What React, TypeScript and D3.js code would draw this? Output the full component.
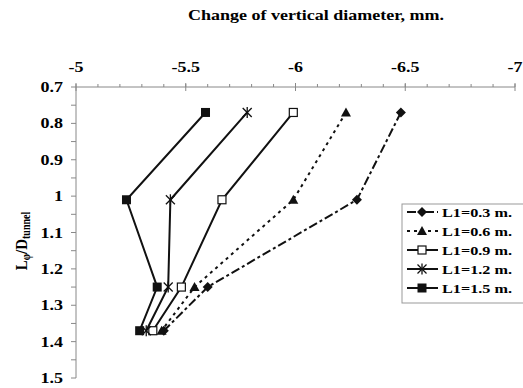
import React from "react";
import * as d3 from "d3";

const yLevels = [0.77, 1.01, 1.25, 1.37];
const seriesNames = ["L1=0.3 m.", "L1=0.6 m.", "L1=0.9 m.", "L1=1.2 m.", "L1=1.5 m."];
const s03 = [-6.48, -6.28, -5.6, -5.4];
const s06 = [-6.23, -5.99, -5.54, -5.39];
const s09 = [-5.99, -5.665, -5.48, -5.35];
const s12 = [-5.78, -5.43, -5.42, -5.32];
const s15 = [-5.59, -5.23, -5.37, -5.29];
const xTicks = [-5, -5.5, -6, -6.5, -7];
const yTicks = [0.7, 0.8, 0.9, 1, 1.1, 1.2, 1.3, 1.4, 1.5];

const allSeries = [s03, s06, s09, s12, s15];
const markers = ["diamond", "triangle", "openSquare", "star", "square"];
const dashes = ["9,3,3,3", "3,4", "", "", ""];

const W = 523, H = 388;
const x = d3.scaleLinear().domain([-5, -7]).range([76, 515]);
const y = d3.scaleLinear().domain([0.7, 1.5]).range([87, 378]);
const font = "Liberation Serif";
const SX = 1.2;

function T({ x: tx, y: ty, anchor, size, children }: { x: number; y: number; anchor?: string; size: number; children: any }) {
  return (
    <text
      transform={`translate(${tx},${ty}) scale(${SX},1)`}
      textAnchor={anchor || "start"}
      style={{ fontFamily: font, fontWeight: 700, fontSize: size }}
    >
      {children}
    </text>
  );
}

function Marker({ kind, cx, cy }: { kind: string; cx: number; cy: number }) {
  const c = "#111";
  if (kind === "diamond") {
    const r = 5;
    return <path d={`M${cx},${cy - r}L${cx + r},${cy}L${cx},${cy + r}L${cx - r},${cy}Z`} fill={c} />;
  }
  if (kind === "triangle") {
    const r = 5;
    return <path d={`M${cx},${cy - r}L${cx + r},${cy + r * 0.8}L${cx - r},${cy + r * 0.8}Z`} fill={c} />;
  }
  if (kind === "openSquare") {
    return <rect x={cx - 4} y={cy - 4} width={8} height={8} fill="#fff" stroke={c} strokeWidth={1.2} />;
  }
  if (kind === "square") {
    return <rect x={cx - 4.5} y={cy - 4.5} width={9} height={9} fill={c} />;
  }
  const r = 4.5;
  return (
    <g stroke={c} strokeWidth={1.3}>
      <line x1={cx - r} y1={cy - r} x2={cx + r} y2={cy + r} />
      <line x1={cx - r} y1={cy + r} x2={cx + r} y2={cy - r} />
      <line x1={cx} y1={cy - r - 1} x2={cx} y2={cy + r + 1} />
    </g>
  );
}

export default function App() {
  const line = d3
    .line<number>()
    .x((d) => x(d))
    .y((_, i) => y(yLevels[i]));
  const minorX = d3.range(0, 21).map((i) => -5 - i * 0.1);
  const minorY = d3.range(0, 17).map((i) => 0.7 + i * 0.05);
  const legendY = [212, 231, 250, 269, 288];
  return (
    <svg width={W} height={H} style={{ position: "absolute", left: 0, top: 0, background: "#fff" }}>
      <rect width={W} height={H} fill="#fff" />
      <T x={316} y={20} anchor="middle" size={15}>
        Change of vertical diameter, mm.
      </T>
      {/* top axis */}
      <line x1={x(-5)} x2={x(-7)} y1={y(0.7)} y2={y(0.7)} stroke="#888" />
      {minorX.map((v, i) => (
        <line key={"mx" + i} x1={x(v)} x2={x(v)} y1={y(0.7) - 3} y2={y(0.7)} stroke="#888" />
      ))}
      {xTicks.map((v) => (
        <g key={"xt" + v}>
          <line x1={x(v)} x2={x(v)} y1={y(0.7) - 4} y2={y(0.7) + 4} stroke="#888" />
          <T x={x(v)} y={72} anchor="middle" size={15}>
            {String(v)}
          </T>
        </g>
      ))}
      {/* left axis */}
      <line x1={x(-5)} x2={x(-5)} y1={y(0.7)} y2={y(1.5)} stroke="#888" />
      {minorY.map((v, i) => (
        <line key={"my" + i} x1={x(-5) - 5} x2={x(-5)} y1={y(v)} y2={y(v)} stroke="#888" />
      ))}
      {yTicks.map((v) => (
        <T key={"yt" + v} x={63} y={y(v) + 5} anchor="end" size={15}>
          {String(v)}
        </T>
      ))}
      <text
        transform="translate(27,241) rotate(-90) scale(1,1.15)"
        textAnchor="middle"
        style={{ fontFamily: font, fontWeight: 700, fontSize: 15 }}
      >
        L<tspan style={{ fontSize: 10 }} dy={3}>φ</tspan>
        <tspan dy={-3}>/D</tspan>
        <tspan style={{ fontSize: 10 }} dy={3}>tunnel</tspan>
      </text>
      {/* series */}
      {allSeries.map((s, k) => (
        <path key={"l" + k} d={line(s) || ""} fill="none" stroke="#111" strokeWidth={2} strokeDasharray={dashes[k]} />
      ))}
      {allSeries.map((s, k) =>
        s.map((v, i) => <Marker key={"m" + k + "-" + i} kind={markers[k]} cx={x(v)} cy={y(yLevels[i])} />)
      )}
      {/* legend */}
      <rect x={402} y={204} width={140} height={99} fill="#fff" stroke="#999" />
      {seriesNames.map((n, k) => (
        <g key={"lg" + k}>
          <line x1={407} x2={438} y1={legendY[k]} y2={legendY[k]} stroke="#111" strokeWidth={2} strokeDasharray={dashes[k]} />
          <Marker kind={markers[k]} cx={422} cy={legendY[k]} />
          <T x={442} y={legendY[k] + 4.5} size={13.5}>
            {n}
          </T>
        </g>
      ))}
    </svg>
  );
}
